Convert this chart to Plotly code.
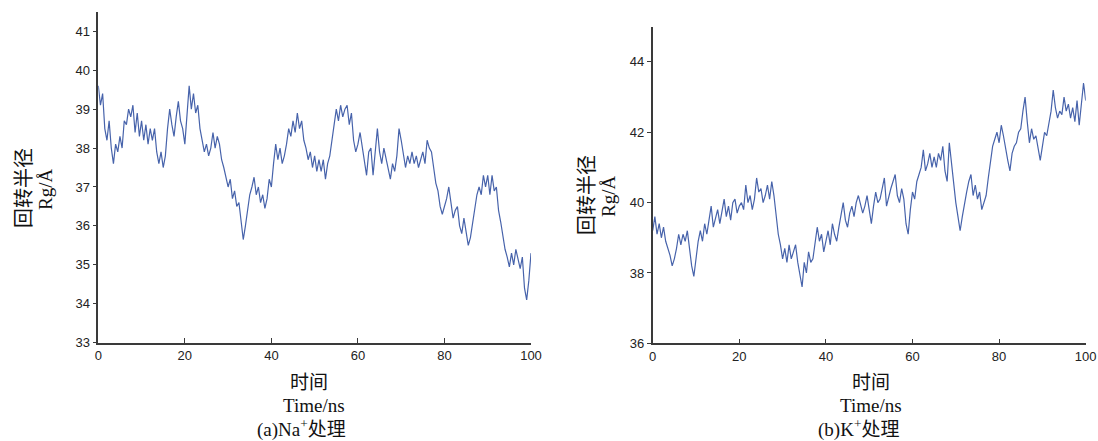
import numpy as np
import plotly.graph_objects as go

rg_na = [39.6, 39.1, 39.4, 38.5, 38.2, 38.7, 38.0, 37.6, 38.1, 37.9,
         38.3, 38.0, 38.7, 38.6, 39.0, 38.8, 39.1, 38.4, 38.9, 38.3,
         38.7, 38.2, 38.6, 38.1, 38.5, 38.2, 38.5, 37.9, 37.6, 37.9,
         37.5, 37.8, 38.5, 39.0, 38.6, 38.3, 38.8, 39.2, 38.7, 38.5,
         38.1, 38.8, 39.6, 39.0, 39.4, 38.9, 39.1, 38.5, 38.2, 37.9,
         38.1, 37.8, 38.0, 38.4, 38.0, 38.3, 38.1, 37.7, 37.5, 37.2,
         37.0, 37.2, 36.7, 36.9, 36.5, 36.6, 36.1, 35.65, 36.0, 36.4,
         36.8, 37.0, 37.25, 36.8, 37.0, 36.6, 36.8, 36.45, 36.7, 37.2,
         37.0, 37.6, 38.1, 37.7, 38.0, 37.6, 37.8, 38.1, 38.5, 38.3,
         38.7, 38.4, 38.9, 38.5, 38.7, 38.2, 38.0, 37.7, 37.9, 37.5,
         37.8, 37.4, 37.7, 37.4, 37.7, 37.2, 37.6, 37.8, 38.2, 38.7,
         39.0, 38.7, 39.1, 38.8, 39.0, 39.1, 38.6, 38.9, 38.2, 37.9,
         38.1, 38.4, 38.0, 37.6, 37.3, 37.9, 38.0, 37.3, 38.0, 38.5,
         37.9, 37.6, 38.0, 37.7, 37.5, 37.2, 37.6, 37.4, 37.8, 38.5,
         38.2, 37.9, 37.5, 37.8, 37.6, 37.9, 37.6, 37.8, 37.5, 37.7,
         37.9, 37.6, 38.2, 38.0, 37.9, 37.5, 37.1, 36.9, 36.5, 36.3,
         36.5, 36.7, 37.0, 36.6, 36.2, 36.4, 36.5, 36.0, 35.8, 36.2,
         35.9, 35.5, 35.7, 36.1, 36.4, 36.8, 37.0, 36.8, 37.3, 37.0,
         37.3, 36.8, 37.3, 36.9, 37.0, 36.4, 36.1, 35.7, 35.4, 35.2,
         34.95, 35.3, 35.0, 35.4, 35.1, 34.9, 35.2, 34.4, 34.1, 34.6,
         35.3]

rg_k = [39.2, 39.6, 39.1, 39.4, 39.0, 39.3, 38.9, 38.7, 38.5, 38.2,
        38.4, 38.7, 39.1, 38.8, 39.1, 38.9, 39.2, 38.7, 38.2, 37.9,
        38.5, 38.9, 39.2, 38.9, 39.4, 39.1, 39.5, 39.9, 39.3, 39.6,
        39.8, 39.4, 39.7, 40.1, 39.6, 39.9, 39.5, 40.0, 40.1, 39.7,
        39.9, 40.0, 39.8, 40.5, 40.0, 40.2, 39.8, 40.1, 40.7, 40.3,
        40.4, 40.0, 40.2, 40.5, 40.1, 40.6, 40.2, 39.6, 39.1, 38.8,
        38.4, 38.7, 38.3, 38.8, 38.4, 38.6, 38.8, 38.3, 38.0, 37.6,
        38.3, 38.0, 38.6, 38.3, 38.4, 38.9, 39.3, 38.9, 39.1, 38.6,
        38.9, 39.2, 38.8, 39.4, 39.1, 38.9, 39.3, 39.6, 40.0, 39.5,
        39.3, 39.7, 39.9, 39.6, 40.0, 40.2, 39.9, 39.7, 39.9, 40.2,
        39.8, 39.4, 39.9, 40.3, 40.0, 40.1, 40.4, 40.7, 39.9, 40.2,
        40.4, 40.6, 40.8, 40.2, 40.0, 40.4, 40.1, 39.4, 39.1, 39.8,
        40.3, 40.1, 40.6, 40.8, 41.0, 41.5, 40.9, 41.1, 41.4, 41.0,
        41.3, 41.0, 41.4, 41.2, 41.6, 40.9, 40.6, 41.7, 41.1, 40.5,
        40.0, 39.6, 39.2, 39.6, 40.0, 40.3, 40.6, 40.8, 40.2, 40.5,
        40.1, 40.3, 39.8, 40.0, 40.2, 40.7, 41.2, 41.6, 41.8, 42.0,
        41.7, 42.2, 41.9, 41.5, 41.2, 40.9, 41.4, 41.6, 41.7, 42.0,
        42.1, 42.6, 43.0, 42.3, 41.7, 42.1, 41.8, 41.9, 41.6, 41.2,
        41.6, 42.0, 41.9, 42.2, 42.6, 43.2, 42.7, 42.4, 42.6, 42.5,
        43.0, 42.6, 42.8, 42.4, 42.7, 42.3, 42.9, 42.2, 42.9, 43.4,
        42.9]

time_na = np.linspace(0, 100, len(rg_na))
time_k = np.linspace(0, 100, len(rg_k))

x_ticks = [0, 20, 40, 60, 80, 100]
y_ticks_na = [33, 34, 35, 36, 37, 38, 39, 40, 41]
y_ticks_k = [36, 38, 40, 42, 44]

LINE = "#4763ab"
AX = "#3a3a3a"
SANS = "Liberation Sans, Arial, sans-serif"
SERIF = "Liberation Serif, Times New Roman, serif"
CJK = "Noto Sans CJK SC, sans-serif"

fig = go.Figure()
fig.add_trace(go.Scatter(x=time_na, y=rg_na, mode="lines", xaxis="x", yaxis="y",
                         line=dict(color=LINE, width=1.2), showlegend=False))
fig.add_trace(go.Scatter(x=time_k, y=rg_k, mode="lines", xaxis="x2", yaxis="y2",
                         line=dict(color=LINE, width=1.2), showlegend=False))

W, H = 1098, 441
def px(x):
    return x / W
def py(y):
    return 1 - y / H

xcommon = dict(range=[0, 100], tickvals=x_ticks, ticks="inside", ticklen=5, tickwidth=1.2,
               tickcolor=AX, showline=True, linecolor=AX, linewidth=1.6, showgrid=False,
               zeroline=False, automargin=False,
               tickfont=dict(family=SANS, size=13, color="#222"))
ycommon = dict(ticks="outside", ticklen=4, tickwidth=1.2, tickcolor=AX, showline=True,
               linecolor=AX, linewidth=1.6, showgrid=False, zeroline=False, automargin=False,
               tickfont=dict(family=SANS, size=13, color="#222"))

fig.update_layout(
    width=W, height=H, margin=dict(l=0, r=0, t=0, b=0, autoexpand=False),
    paper_bgcolor="white", plot_bgcolor="white",
    xaxis=dict(domain=[px(98.3), px(531)], anchor="y", **xcommon),
    yaxis=dict(domain=[py(342.7), py(11.8)], anchor="x", range=[33, 41.5],
               tickvals=y_ticks_na, **ycommon),
    xaxis2=dict(domain=[px(652.7), px(1085.7)], anchor="y2", **xcommon),
    yaxis2=dict(domain=[py(343.3), py(26.7)], anchor="x2", range=[36, 45],
                tickvals=y_ticks_k, **ycommon),
)

def ann(text, x, y, size, family, angle=0):
    fig.add_annotation(text=text, x=px(x), y=py(y), xref="paper", yref="paper",
                       showarrow=False, textangle=angle, xanchor="center", yanchor="middle",
                       font=dict(family=family, size=size, color="#111"))

# left panel titles
ann("回转半径", 22, 188, 20, CJK, -90)
ann("Rg/Å", 46, 190, 19, SERIF, -90)
ann("时间", 309, 380, 19, CJK)
ann("Time/ns", 314, 405, 19, SERIF)
ann("(a)Na<sup>+</sup>处理", 301, 428, 19, SERIF + ", " + CJK)

# right panel titles
ann("回转半径", 585, 195, 20, CJK, -90)
ann("Rg/Å", 608, 197, 19, SERIF, -90)
ann("时间", 871, 380, 19, CJK)
ann("Time/ns", 871, 405, 19, SERIF)
ann("(b)K<sup>+</sup>处理", 858, 428, 19, SERIF + ", " + CJK)

fig.write_html("out.html", config={"displayModeBar": False},
               post_script="document.body.style.margin='0px';document.body.style.overflow='hidden';")
